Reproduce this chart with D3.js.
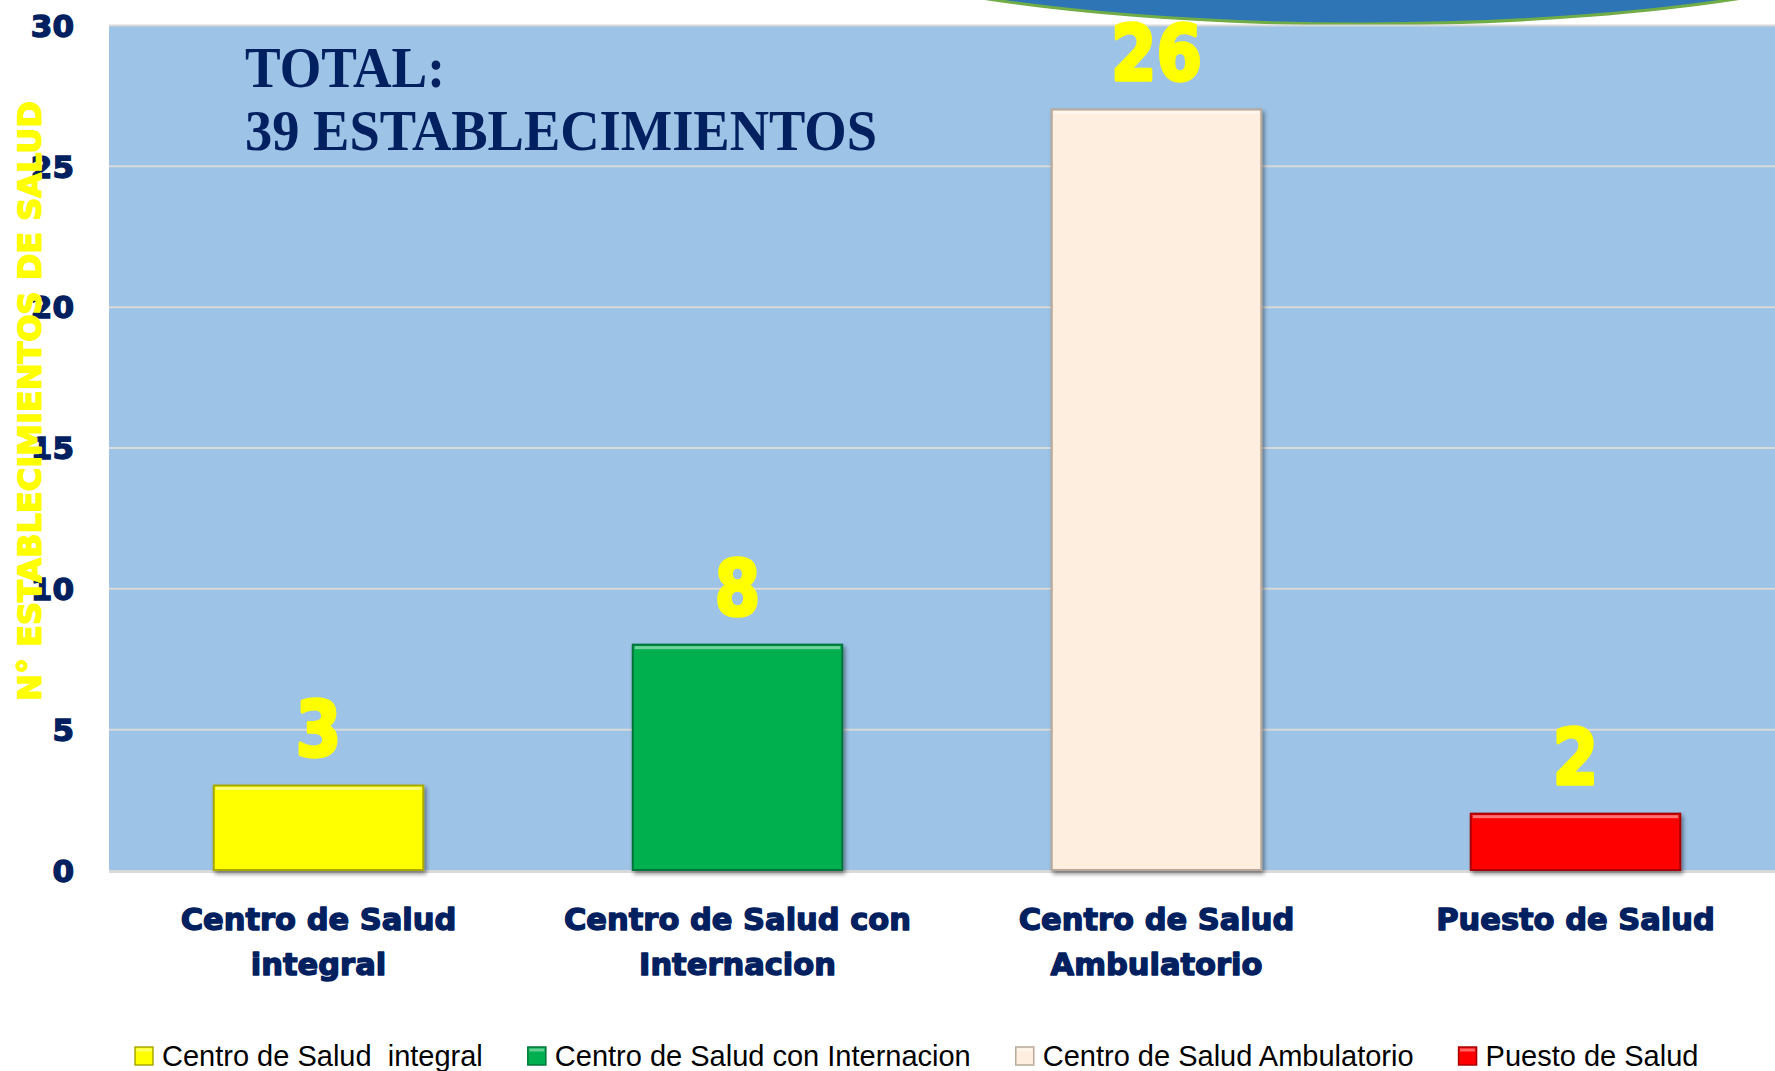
<!DOCTYPE html>
<html><head><meta charset="utf-8">
<script src="https://cdn.jsdelivr.net/npm/d3@7"></script>
<style>body{margin:0;background:#fff}svg{display:block}</style>
</head><body><svg id="c" width="1775" height="1071"></svg>
<script>
const categories = ["Centro de Salud  integral","Centro de Salud con Internacion","Centro de Salud Ambulatorio","Puesto de Salud"];
const axisLabels = [["Centro de Salud","integral"],["Centro de Salud con","Internacion"],["Centro de Salud","Ambulatorio"],["Puesto de Salud"]];
const values = [3, 8, 27, 2];
const dataLabels = ["3","8","26","2"];
const yTicks = [0,5,10,15,20,25,30];
const colors = ["#FFFF00","#00B050","#FDEEDF","#FF0000"];
const strokes = ["#A8A800","#00753A","#B9A899","#A80000"];
const titleLines = ["TOTAL:","39 ESTABLECIMIENTOS"];
const yTitle = "N\u00B0 ESTABLECIMIENTOS DE SALUD";

(function(){
const svg = d3.select("#c");
const pL = 109, pR = 1775, pT = 25, pB = 870;
const navy = "#002060";

const defs = svg.append("defs");
const f = defs.append("filter").attr("id","sh").attr("x","-10%").attr("y","-10%").attr("width","130%").attr("height","130%");
f.append("feDropShadow").attr("dx",2).attr("dy",3).attr("stdDeviation",2).attr("flood-color","#000").attr("flood-opacity",0.45);

// decorative ellipse at top
svg.append("ellipse").attr("cx",1362).attr("cy",-96).attr("rx",612).attr("ry",120)
  .attr("fill","#2E75B6").attr("stroke","#70AD47").attr("stroke-width",3);

const x = d3.scaleBand().domain(categories).range([pL, 1785]).paddingInner(0.5).paddingOuter(0.25);
const y = d3.scaleLinear().domain([0,30]).range([pB, pT]);

// plot background
svg.append("rect").attr("x",pL).attr("y",pT).attr("width",pR-pL).attr("height",pB-pT).attr("fill","#9DC3E6");

// gridlines
const grid = svg.append("g").attr("transform",`translate(${pL},0)`)
  .call(d3.axisLeft(y).tickValues(yTicks.filter(t=>t>0)).tickSize(-(pR-pL)).tickFormat(""));
grid.select(".domain").remove();
grid.selectAll("line").attr("stroke","#D9D9D9").attr("stroke-width",2);

// baseline
svg.append("line").attr("x1",pL).attr("x2",pR).attr("y1",pB+1.5).attr("y2",pB+1.5)
  .attr("stroke","#D9D9D9").attr("stroke-width",3);

// y axis labels
const ya = svg.append("g").attr("transform",`translate(${pL},0)`)
  .call(d3.axisLeft(y).tickValues(yTicks).tickSize(0).tickPadding(35));
ya.select(".domain").remove();
ya.selectAll("text").attr("font-family","DejaVu Sans").attr("font-weight","bold").attr("font-size",31)
  .attr("fill",navy).attr("stroke",navy).attr("stroke-width",1.4).attr("dy","0.36em");

// bars
svg.append("g").selectAll("rect").data(values).join("rect")
  .attr("x",(d,i)=>x(categories[i])).attr("width",x.bandwidth())
  .attr("y",d=>y(d)).attr("height",d=>y(0)-y(d))
  .attr("fill",(d,i)=>colors[i]).attr("stroke",(d,i)=>strokes[i]).attr("stroke-width",2)
  .attr("filter","url(#sh)");
// top highlight
svg.append("g").selectAll("rect").data(values).join("rect")
  .attr("x",(d,i)=>x(categories[i])+2).attr("width",x.bandwidth()-4)
  .attr("y",d=>y(d)+1.5).attr("height",3)
  .attr("fill","#fff").attr("opacity",0.45);

// data labels
svg.append("g").selectAll("text").data(values).join("text")
  .attr("transform",(d,i)=>`translate(${x(categories[i])+x.bandwidth()/2},${y(d)-30}) scale(0.86,1)`)
  .attr("text-anchor","middle").attr("font-family","DejaVu Sans").attr("font-weight","bold")
  .attr("font-size",76).attr("fill","#FFFF00").attr("stroke","#FFFF00").attr("stroke-width",3.5)
  .attr("stroke-linejoin","round")
  .text((d,i)=>dataLabels[i]);

// category axis
const xa = svg.append("g").attr("transform",`translate(0,${pB})`)
  .call(d3.axisBottom(x).tickSize(0).tickFormat(""));
xa.select(".domain").remove();
xa.selectAll(".tick").each(function(d){
  const i = categories.indexOf(d);
  const t = d3.select(this).append("text").attr("text-anchor","middle")
    .attr("font-family","DejaVu Sans").attr("font-weight","bold").attr("font-size",30.5)
    .attr("fill",navy).attr("stroke",navy).attr("stroke-width",1.4).attr("stroke-linejoin","round");
  axisLabels[i].forEach((l,k)=>t.append("tspan").attr("x",0).attr("y",60+k*45).text(l));
});

// y title
svg.append("text").attr("transform","translate(41,401) rotate(-90)").attr("text-anchor","middle")
  .attr("font-family","DejaVu Sans").attr("font-weight","bold").attr("font-size",32)
  .attr("fill","#FFFF00").attr("stroke","#FFFF00").attr("stroke-width",1.6).attr("stroke-linejoin","round")
  .text(yTitle);

// total title
const tl = [[87,200],[150,632]];
titleLines.forEach((s,i)=>{
  svg.append("text").attr("x",245).attr("y",tl[i][0]).attr("font-family","Liberation Serif")
    .attr("font-weight","bold").attr("font-size",56).attr("fill",navy)
    .attr("textLength",tl[i][1]).attr("lengthAdjust","spacingAndGlyphs").text(s);
});

// legend
const lg = svg.append("g");
let lx = 135;
categories.forEach((c,i)=>{
  lg.append("rect").attr("x",lx).attr("y",1047).attr("width",18).attr("height",18)
    .attr("fill",colors[i]).attr("stroke",strokes[i]).attr("stroke-width",1.5);
  lg.append("rect").attr("x",lx+1.5).attr("y",1048.5).attr("width",15).attr("height",3).attr("fill","#fff").attr("opacity",0.4);
  const t = lg.append("text").attr("x",lx+27).attr("y",1066).attr("font-family","Liberation Sans")
    .attr("font-size",29).attr("fill","#000").style("white-space","pre").text(c);
  lx += 27 + t.node().getComputedTextLength() + 45;
});
})();
</script></body></html>
